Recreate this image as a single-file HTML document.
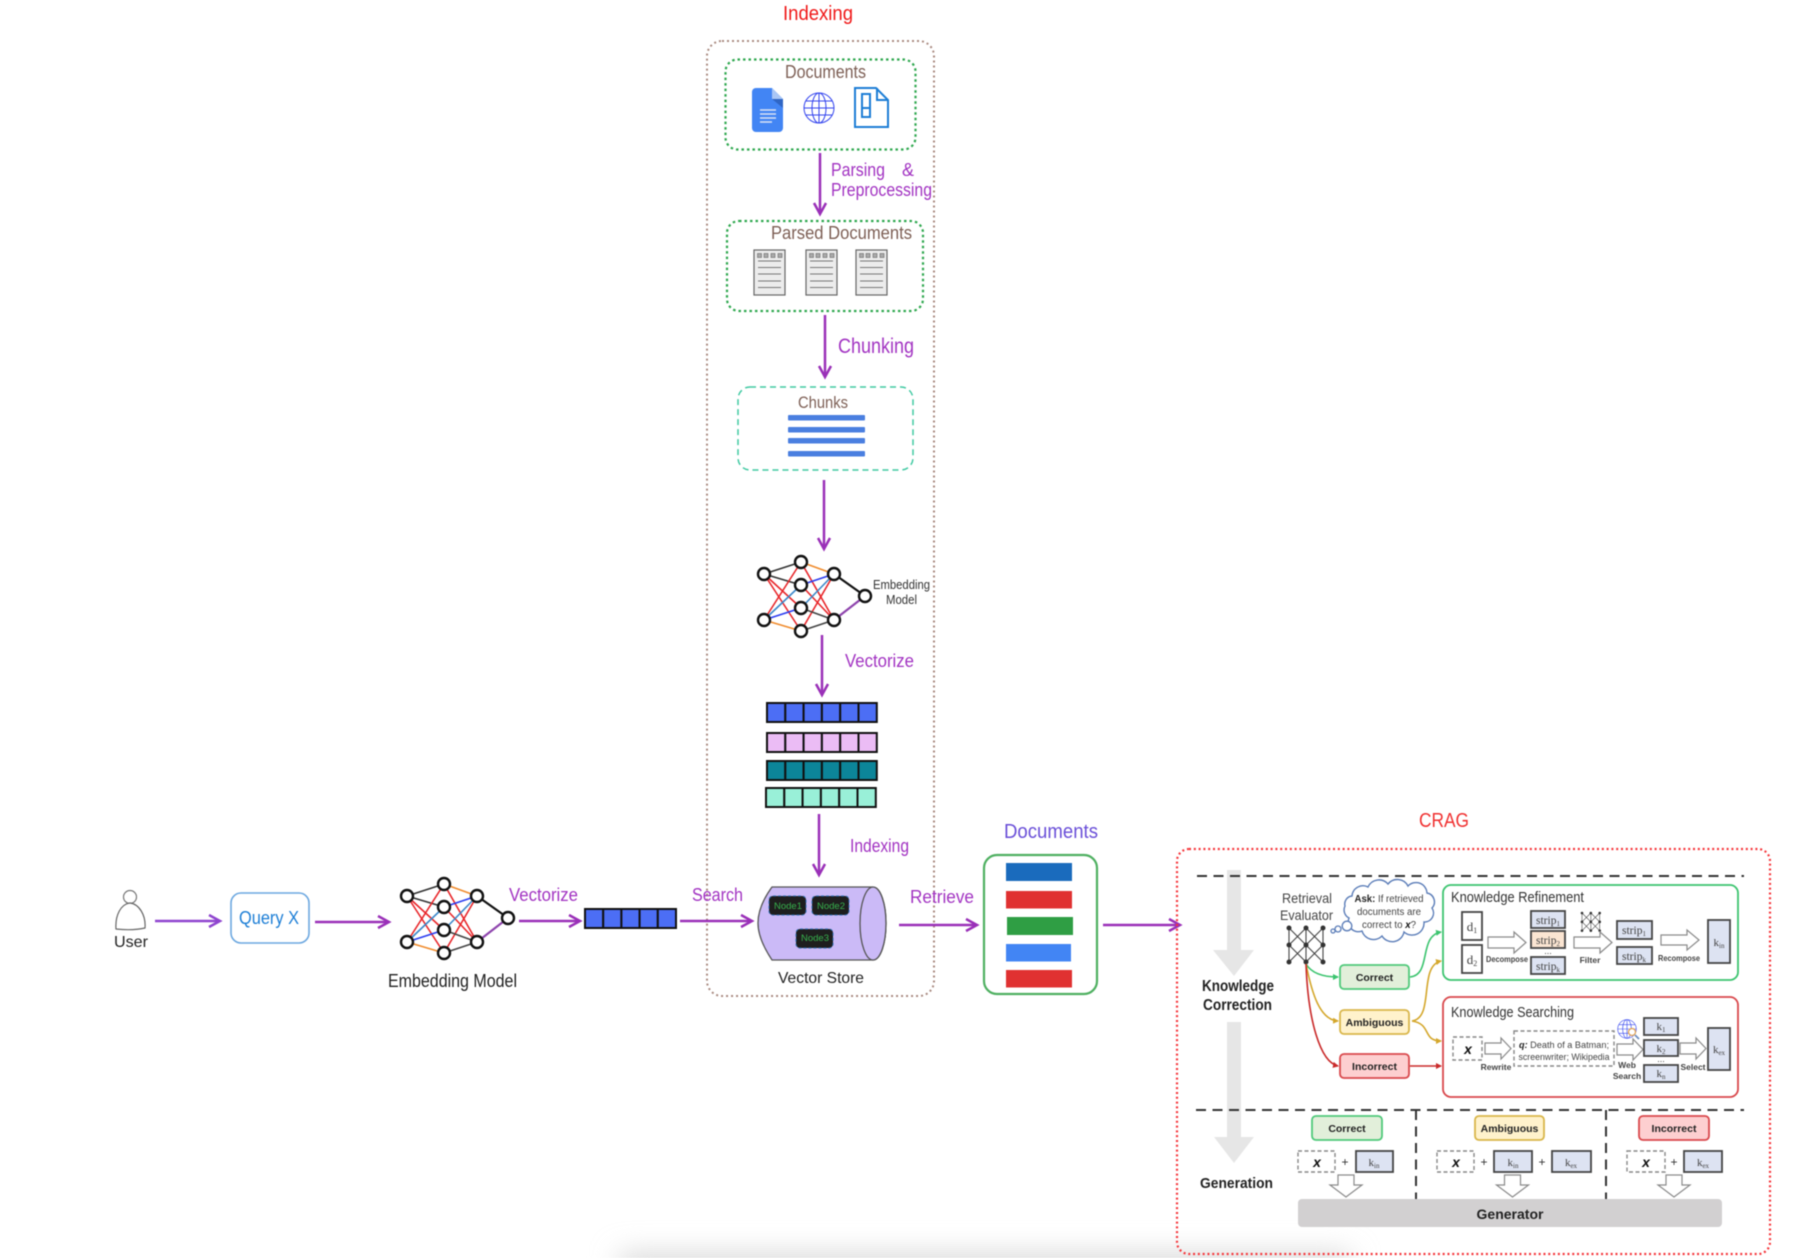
<!DOCTYPE html>
<html><head><meta charset="utf-8">
<style>
html,body{margin:0;padding:0;background:#fff;width:1794px;height:1258px;overflow:hidden}
svg{display:block;filter:blur(.45px)}
text{font-family:"Liberation Sans",sans-serif}
.p{fill:#a233c2;font-size:18px}
.br{fill:#7d5f55;font-size:18px}
.k{fill:#222;font-size:16px}
.b{font-weight:bold;fill:#222}
.t{fill:#333;font-size:14.5px}
.s{font-family:"Liberation Serif",serif;fill:#444;text-anchor:middle}
.l{font-size:8.5px;font-weight:bold;fill:#444;text-anchor:middle}
.box{fill:#dde3f2;stroke:#444;stroke-width:1.8}
.dash{fill:#fff;stroke:#888;stroke-width:1.4;stroke-dasharray:4 2.5}
.ha{fill:#fff;stroke:#8a8a8a;stroke-width:1.2}
.arr{fill:none;stroke:#9a30b8;stroke-width:2.5;marker-end:url(#m)}
.arr2{fill:none;stroke:#8f45cf;stroke-width:2.5;marker-end:url(#m2)}
.tag{font-size:10.5px;font-weight:bold;fill:#222;text-anchor:middle}
</style></head><body>
<svg width="1794" height="1258" viewBox="0 0 1794 1258" xmlns="http://www.w3.org/2000/svg">
<defs>
<filter id="sh" x="-20%" y="-300%" width="140%" height="700%"><feGaussianBlur stdDeviation="14"/></filter>
<marker id="m" markerUnits="userSpaceOnUse" markerWidth="20" markerHeight="20" refX="12" refY="7" orient="auto" overflow="visible"><path d="M1 1 L12 7 L1 13" fill="none" stroke="#9a30b8" stroke-width="2.5"/></marker>
<marker id="m2" markerUnits="userSpaceOnUse" markerWidth="20" markerHeight="20" refX="12" refY="7" orient="auto" overflow="visible"><path d="M1 1 L12 7 L1 13" fill="none" stroke="#8f45cf" stroke-width="2.5"/></marker>
<marker id="mg" markerUnits="userSpaceOnUse" markerWidth="8" markerHeight="8" refX="5" refY="3" orient="auto"><path d="M0 0L6 3L0 6Z" fill="#3cc46f"/></marker>
<marker id="my" markerUnits="userSpaceOnUse" markerWidth="8" markerHeight="8" refX="5" refY="3" orient="auto"><path d="M0 0L6 3L0 6Z" fill="#d4a72c"/></marker>
<marker id="mr" markerUnits="userSpaceOnUse" markerWidth="8" markerHeight="8" refX="5" refY="3" orient="auto"><path d="M0 0L6 3L0 6Z" fill="#c92a2a"/></marker>
<g id="nn" fill="none" stroke-width="1.6">
<path d="M0 0L37-12M0 0L37 11" stroke="#333"/>
<path d="M0 0L37 34M0 0L37 57" stroke="#e8262a"/>
<path d="M0 46L37-12" stroke="#e8262a"/>
<path d="M0 46L37 11" stroke="#3a86c8"/>
<path d="M0 46L37 34" stroke="#2a3cf0"/>
<path d="M0 46L37 57" stroke="#f08c2e"/>
<path d="M37-12L70 0" stroke="#f08c2e"/>
<path d="M37-12L70 46M37 11L70 46M37 57L70 0" stroke="#e8262a"/>
<path d="M37 11L70 0" stroke="#2a3cf0"/>
<path d="M37 34L70 0" stroke="#3a86c8"/>
<path d="M37 34L70 46M37 57L70 46" stroke="#444"/>
<path d="M70 0L101 22" stroke="#111" stroke-width="2.2"/>
<path d="M70 46L101 22" stroke="#8e44ad" stroke-width="2.2"/>
<g fill="#fff" stroke="#111" stroke-width="2.4">
<circle cx="0" cy="0" r="6"/><circle cx="0" cy="46" r="6"/>
<circle cx="37" cy="-12" r="6"/><circle cx="37" cy="11" r="6"/><circle cx="37" cy="34" r="6"/><circle cx="37" cy="57" r="6"/>
<circle cx="70" cy="0" r="6"/><circle cx="70" cy="46" r="6"/><circle cx="101" cy="22" r="6"/>
</g></g>
<g id="net">
<path d="M0 0L17 17L34 0M0 34L17 17L34 34M0 0V34M17 0V34M34 0V34M0 17L17 0M0 17L17 34M34 17L17 0M34 17L17 34" fill="none" stroke="#444" stroke-width="1.100"/>
<g fill="#333"><circle cx="0" cy="0" r="2.5"/><circle cx="17" cy="0" r="2.5"/><circle cx="34" cy="0" r="2.5"/><circle cx="0" cy="17" r="2.5"/><circle cx="17" cy="17" r="2.5"/><circle cx="34" cy="17" r="2.5"/><circle cx="0" cy="34" r="2.5"/><circle cx="17" cy="34" r="2.5"/><circle cx="34" cy="34" r="2.5"/></g>
</g>
<g id="pdoc">
<rect x="0" y="0" width="31" height="45" fill="#ececec" stroke="#666" stroke-width="1.2"/>
<g fill="#aaa" stroke="#666" stroke-width=".6"><rect x="3.5" y="3.5" width="4" height="4"/><rect x="10" y="3.5" width="4" height="4"/><rect x="17" y="3.5" width="4" height="4"/><rect x="24" y="3.5" width="4" height="4"/></g>
<path d="M4 11H27M4 17.500H27M4 24H27M4 31H27M4 37.500H27" stroke="#777" stroke-width="1"/>
</g>
<g id="globe" fill="none" stroke="#3344ee" stroke-width="1">
<circle cx="0" cy="0" r="15"/><ellipse cx="0" cy="0" rx="7" ry="15"/><path d="M0-15V15M-15 0H15M-13-7H13M-13 7H13"/>
</g>
</defs>

<rect x="620" y="1254" width="730" height="24" fill="#d4d4d4" filter="url(#sh)"/>

<!-- Indexing -->
<text x="783" y="20" font-size="20" fill="#f01818" textLength="70" lengthAdjust="spacingAndGlyphs">Indexing</text>
<rect x="707" y="41" width="227" height="955" rx="15" fill="none" stroke="#a98a80" stroke-width="2" stroke-dasharray="2 3"/>

<rect x="725.500" y="59.500" width="190" height="90" rx="12" fill="none" stroke="#2fa84f" stroke-width="2.200" stroke-dasharray="2.500 3"/>
<text class="br" x="785" y="78" textLength="81" lengthAdjust="spacingAndGlyphs">Documents</text>
<path d="M752 92a4 4 0 0 1 4-4H772L783 99V128a4 4 0 0 1-4 4H756a4 4 0 0 1-4-4Z" fill="#4285f4"/>
<path d="M772 88L783 99H772Z" fill="#a9c6f5"/>
<path d="M772 99L783 108V99Z" fill="#2f66c5"/>
<path d="M760 110H776M760 114H776M760 118H776M760 122H772" stroke="#dbe4f3" stroke-width="1.600"/>
<use href="#globe" x="819" y="108"/>
<path d="M876 88H855V127H888V100ZM877 88V100H888" fill="none" stroke="#1c7ed6" stroke-width="2"/>
<path d="M862 94H870V117H862ZM862 108H870" fill="none" stroke="#1c7ed6" stroke-width="2"/>

<path class="arr" d="M820 153V214"/>
<text class="p" x="831" y="176" textLength="54" lengthAdjust="spacingAndGlyphs">Parsing</text>
<text class="p" x="902" y="176">&amp;</text>
<text class="p" x="831" y="196" textLength="101" lengthAdjust="spacingAndGlyphs">Preprocessing</text>

<rect x="727" y="221" width="196" height="90" rx="12" fill="none" stroke="#2fa84f" stroke-width="2.200" stroke-dasharray="2.500 3"/>
<text class="br" x="771" y="239" textLength="141" lengthAdjust="spacingAndGlyphs">Parsed Documents</text>
<use href="#pdoc" x="754" y="250"/><use href="#pdoc" x="806" y="250"/><use href="#pdoc" x="856" y="250"/>

<path class="arr" d="M825 315V377"/>
<text class="p" x="838" y="353" style="font-size:21px" textLength="76" lengthAdjust="spacingAndGlyphs">Chunking</text>

<rect x="738" y="387" width="175" height="83" rx="12" fill="none" stroke="#40c9a2" stroke-width="1.500" stroke-dasharray="6 4"/>
<text class="br" x="798" y="408" style="font-size:17px" textLength="50" lengthAdjust="spacingAndGlyphs">Chunks</text>
<g fill="#4a7fe0"><rect x="788" y="415" width="77" height="5.500" rx="1"/><rect x="788" y="427" width="77" height="5.500" rx="1"/><rect x="788" y="438" width="77" height="5.500" rx="1"/><rect x="788" y="451" width="77" height="5.500" rx="1"/></g>

<path class="arr" d="M824 480V549"/>
<use href="#nn" x="764" y="574"/>
<text x="873" y="589" font-size="13" fill="#333" textLength="57" lengthAdjust="spacingAndGlyphs">Embedding</text>
<text x="886" y="604" font-size="13" fill="#333" textLength="31" lengthAdjust="spacingAndGlyphs">Model</text>

<path class="arr" d="M822 635V695"/>
<text class="p" x="845" y="667" textLength="69" lengthAdjust="spacingAndGlyphs">Vectorize</text>

<g stroke="#111" stroke-width="2">
<g fill="#4c6ef5"><rect x="767" y="703" width="18.300" height="19"/><rect x="785.300" y="703" width="18.300" height="19"/><rect x="803.600" y="703" width="18.300" height="19"/><rect x="821.900" y="703" width="18.300" height="19"/><rect x="840.200" y="703" width="18.300" height="19"/><rect x="858.500" y="703" width="18.300" height="19"/></g>
<g fill="#ebbcf5"><rect x="767" y="733" width="18.300" height="19"/><rect x="785.300" y="733" width="18.300" height="19"/><rect x="803.600" y="733" width="18.300" height="19"/><rect x="821.900" y="733" width="18.300" height="19"/><rect x="840.200" y="733" width="18.300" height="19"/><rect x="858.500" y="733" width="18.300" height="19"/></g>
<g fill="#0c8599"><rect x="767" y="761" width="18.300" height="19"/><rect x="785.300" y="761" width="18.300" height="19"/><rect x="803.600" y="761" width="18.300" height="19"/><rect x="821.900" y="761" width="18.300" height="19"/><rect x="840.200" y="761" width="18.300" height="19"/><rect x="858.500" y="761" width="18.300" height="19"/></g>
<g fill="#99f0d8"><rect x="766" y="788" width="18.300" height="19"/><rect x="784.300" y="788" width="18.300" height="19"/><rect x="802.600" y="788" width="18.300" height="19"/><rect x="820.900" y="788" width="18.300" height="19"/><rect x="839.200" y="788" width="18.300" height="19"/><rect x="857.500" y="788" width="18.300" height="19"/></g>
</g>

<path class="arr" d="M819 814V875"/>
<text class="p" x="850" y="852" textLength="59" lengthAdjust="spacingAndGlyphs">Indexing</text>

<!-- Cylinder -->
<path d="M772 887H873C881 887 886 905 886 923C886 942 881 960 873 960H772C764 948 758 935 758 923C758 911 764 898 772 887Z" fill="#cbbaf7" stroke="#555" stroke-width="1.300"/>
<ellipse cx="873" cy="923.500" rx="13" ry="36.500" fill="#cbbaf7" stroke="#555" stroke-width="1.300"/>
<g fill="#1e1e1e" stroke="#2b6cb0" stroke-width="1" stroke-dasharray="3 2">
<rect x="769" y="896" width="37" height="19" rx="4"/><rect x="812" y="896" width="37" height="19" rx="4"/><rect x="796" y="929" width="37" height="19" rx="4"/>
</g>
<g fill="#37b24d" font-size="9.500" text-anchor="middle"><text x="788" y="909">Node1</text><text x="831" y="909">Node2</text><text x="815" y="941">Node3</text></g>
<text x="778" y="983" font-size="16" fill="#222" textLength="86" lengthAdjust="spacingAndGlyphs">Vector Store</text>

<!-- Left flow -->
<circle cx="130" cy="897" r="6.500" fill="#fff" stroke="#777" stroke-width="1.200"/>
<path d="M116 929C115 915 121 904 130 903C139 904 146 915 145 928C136 930 125 930 116 929Z" fill="#fff" stroke="#666" stroke-width="1.200"/>
<text x="114" y="947" class="k" textLength="34" lengthAdjust="spacingAndGlyphs">User</text>
<path class="arr2" d="M155 921H220"/>
<rect x="231" y="893" width="78" height="50" rx="10" fill="#fff" stroke="#6ba7e0" stroke-width="1.600"/>
<text x="239" y="924" font-size="18" fill="#1c7ed6" textLength="60" lengthAdjust="spacingAndGlyphs">Query X</text>
<path class="arr" d="M315 922H389"/>
<use href="#nn" x="407" y="896"/>
<text x="388" y="987" font-size="18" fill="#222" textLength="129" lengthAdjust="spacingAndGlyphs">Embedding Model</text>
<path class="arr" d="M519 921H580"/>
<text class="p" x="509" y="901" textLength="69" lengthAdjust="spacingAndGlyphs">Vectorize</text>
<g fill="#4c6ef5" stroke="#111" stroke-width="2"><rect x="585" y="909" width="18.200" height="19"/><rect x="603.200" y="909" width="18.200" height="19"/><rect x="621.400" y="909" width="18.200" height="19"/><rect x="639.600" y="909" width="18.200" height="19"/><rect x="657.800" y="909" width="18.200" height="19"/></g>
<path class="arr" d="M680 921H752"/>
<text class="p" x="692" y="901" textLength="51" lengthAdjust="spacingAndGlyphs">Search</text>
<path class="arr" d="M899 925H977"/>
<text class="p" x="910" y="903" textLength="64" lengthAdjust="spacingAndGlyphs">Retrieve</text>

<!-- Documents -->
<text x="1004" y="838" font-size="20" fill="#6a4fd8" textLength="94" lengthAdjust="spacingAndGlyphs">Documents</text>
<rect x="984" y="855" width="113" height="139" rx="13" fill="#fff" stroke="#4fb061" stroke-width="2.200"/>
<rect x="1006" y="863" width="66" height="18" fill="#1a6bbd"/>
<rect x="1006" y="891" width="66" height="17.500" fill="#e03131"/>
<rect x="1007" y="917" width="66" height="18" fill="#2f9e44"/>
<rect x="1006" y="944" width="65" height="17.500" fill="#4285f4"/>
<rect x="1006" y="970" width="66" height="17.500" fill="#e03131"/>
<path class="arr" d="M1103 925H1180"/>

<!-- CRAG -->
<text x="1419" y="827" font-size="20" fill="#f03030" textLength="50" lengthAdjust="spacingAndGlyphs">CRAG</text>
<rect x="1177" y="849" width="593" height="405" rx="12" fill="none" stroke="#f5353a" stroke-width="2.200" stroke-dasharray="2 2.800"/>

<path d="M1227 870H1241V950H1254L1234 976L1213 950H1227Z" fill="#e6e6e6"/>
<path d="M1227 1022H1241V1137H1254L1234 1163L1214 1137H1227Z" fill="#e6e6e6"/>
<path d="M1197 876H1744M1196 1110H1744" stroke="#333" stroke-width="2" stroke-dasharray="10 6.500" fill="none"/>
<path d="M1416 1110V1200M1606 1110V1200" stroke="#333" stroke-width="2" stroke-dasharray="10 6.500" fill="none"/>

<text class="b" x="1202" y="991" font-size="16" textLength="72" lengthAdjust="spacingAndGlyphs">Knowledge</text>
<text class="b" x="1203" y="1010" font-size="16" textLength="69" lengthAdjust="spacingAndGlyphs">Correction</text>
<text class="b" x="1200" y="1188" font-size="15" textLength="73" lengthAdjust="spacingAndGlyphs">Generation</text>

<text x="1282" y="903" font-size="14" fill="#444" textLength="50" lengthAdjust="spacingAndGlyphs">Retrieval</text>
<text x="1280" y="920" font-size="14" fill="#444" textLength="53" lengthAdjust="spacingAndGlyphs">Evaluator</text>
<use href="#net" x="1289" y="928"/>

<!-- cloud -->
<path d="M1352 896A11 11 0 0 1 1368 887A12 12 0 0 1 1388 884A12 12 0 0 1 1408 886A11 11 0 0 1 1427 893A9 9 0 0 1 1432 908A9 9 0 0 1 1424 922A12 12 0 0 1 1404 932A12 12 0 0 1 1382 936A12 12 0 0 1 1362 931A10 10 0 0 1 1349 918A9 9 0 0 1 1345 906A8 8 0 0 1 1352 896Z" fill="#fff" stroke="#5b7db8" stroke-width="1.400"/>
<g fill="#fff" stroke="#5b7db8" stroke-width="1.300"><circle cx="1347" cy="926" r="4.800"/><circle cx="1338" cy="929" r="3"/><circle cx="1333" cy="931" r="2"/></g>
<g font-size="10" fill="#444" text-anchor="middle">
<text x="1389" y="902" textLength="69" lengthAdjust="spacingAndGlyphs"><tspan font-weight="bold" fill="#222">Ask:</tspan> If retrieved</text>
<text x="1389" y="915" textLength="64" lengthAdjust="spacingAndGlyphs">documents are</text>
<text x="1389" y="928" textLength="54" lengthAdjust="spacingAndGlyphs">correct to <tspan font-weight="bold" font-style="italic" fill="#111">x</tspan>?</text>
</g>

<!-- connectors -->
<path d="M1306 964C1312 974 1325 977 1338 977" fill="none" stroke="#3cc46f" stroke-width="1.600" marker-end="url(#mg)"/>
<path d="M1306 964C1312 994 1320 1020 1338 1021" fill="none" stroke="#d4a72c" stroke-width="1.600" marker-end="url(#my)"/>
<path d="M1306 964C1308 1020 1320 1062 1338 1066" fill="none" stroke="#c92a2a" stroke-width="1.600" marker-end="url(#mr)"/>
<path d="M1410 977C1432 975 1418 936 1441 932" fill="none" stroke="#3cc46f" stroke-width="1.600" marker-end="url(#mg)"/>
<path d="M1412 1021C1435 1018 1418 966 1441 961" fill="none" stroke="#d4a72c" stroke-width="1.600" marker-end="url(#my)"/>
<path d="M1412 1021C1432 1024 1422 1041 1441 1041" fill="none" stroke="#d4a72c" stroke-width="1.600" marker-end="url(#my)"/>
<path d="M1410 1066H1441" fill="none" stroke="#c92a2a" stroke-width="1.600" marker-end="url(#mr)"/>

<g stroke-width="1.800">
<rect x="1340" y="965" width="69" height="24" rx="4" fill="#e2efda" stroke="#4fc97a"/>
<rect x="1340" y="1010" width="69" height="24" rx="4" fill="#fff2cc" stroke="#d9b64a"/>
<rect x="1340" y="1054" width="69" height="24" rx="4" fill="#fdcfd0" stroke="#d9484c"/>
<rect x="1312" y="1116" width="70" height="24" rx="4" fill="#e2efda" stroke="#4fc97a"/>
<rect x="1475" y="1116" width="69" height="24" rx="4" fill="#fff2cc" stroke="#d9b64a"/>
<rect x="1639" y="1116" width="70" height="24" rx="4" fill="#fdcfd0" stroke="#d9484c"/>
</g>
<text class="tag" x="1374.500" y="981">Correct</text>
<text class="tag" x="1374.500" y="1026">Ambiguous</text>
<text class="tag" x="1374.500" y="1070">Incorrect</text>
<text class="tag" x="1347" y="1132">Correct</text>
<text class="tag" x="1509.500" y="1132">Ambiguous</text>
<text class="tag" x="1674" y="1132">Incorrect</text>

<!-- Refinement -->
<rect x="1443" y="885" width="295" height="95" rx="8" fill="#fff" stroke="#3cc46f" stroke-width="1.800"/>
<text class="t" x="1451" y="902" textLength="133" lengthAdjust="spacingAndGlyphs">Knowledge Refinement</text>
<g fill="#fff" stroke="#444" stroke-width="1.800"><rect x="1462" y="912" width="20" height="28"/><rect x="1462" y="945" width="20" height="28"/></g>
<text class="s" x="1472" y="931" font-size="13">d<tspan font-size="8" dy="2">1</tspan></text>
<text class="s" x="1472" y="964" font-size="13">d<tspan font-size="8" dy="2">2</tspan></text>
<polygon class="ha" points="1488,937 1514,937 1514,932 1526,942.500 1514,953 1514,948 1488,948"/>
<text class="l" x="1507" y="962" textLength="42" lengthAdjust="spacingAndGlyphs">Decompose</text>
<rect class="box" x="1531" y="911" width="34" height="17"/>
<rect x="1531" y="931" width="34" height="17" fill="#fbe5d2" stroke="#444" stroke-width="1.800"/>
<rect class="box" x="1531" y="957" width="34" height="17"/>
<text class="s" x="1548" y="924" font-size="11.500">strip<tspan font-size="7" dy="2">1</tspan></text>
<text class="s" x="1548" y="944" font-size="11.500">strip<tspan font-size="7" dy="2">2</tspan></text>
<text x="1548" y="954" font-size="9" fill="#444" text-anchor="middle">...</text>
<text class="s" x="1548" y="970" font-size="11.500">strip<tspan font-size="7" dy="2">k</tspan></text>
<use href="#net" transform="translate(1582 913) scale(.52)"/>
<polygon class="ha" points="1574,937 1600,937 1600,932 1612,942.500 1600,953 1600,948 1574,948"/>
<text class="l" x="1590" y="963">Filter</text>
<rect class="box" x="1617" y="921" width="35" height="18"/><rect class="box" x="1617" y="947" width="35" height="17"/>
<text class="s" x="1634" y="934" font-size="11.500">strip<tspan font-size="7" dy="2">1</tspan></text>
<text class="s" x="1634" y="960" font-size="11.500">strip<tspan font-size="7" dy="2">k</tspan></text>
<polygon class="ha" points="1661,935 1687,935 1687,930 1699,940 1687,950 1687,945 1661,945"/>
<text class="l" x="1679" y="961" textLength="42" lengthAdjust="spacingAndGlyphs">Recompose</text>
<rect class="box" x="1708" y="920" width="22" height="43"/>
<text class="s" x="1719" y="946" font-size="11">k<tspan font-size="7" dy="2">in</tspan></text>

<!-- Searching -->
<rect x="1443" y="997" width="295" height="100" rx="8" fill="#fff" stroke="#d9484c" stroke-width="1.800"/>
<text class="t" x="1451" y="1017" textLength="123" lengthAdjust="spacingAndGlyphs">Knowledge Searching</text>
<rect class="dash" x="1453" y="1037" width="29" height="23"/>
<text x="1468" y="1054" font-size="14" font-weight="bold" font-style="italic" fill="#111" text-anchor="middle">x</text>
<polygon class="ha" points="1485,1043 1501,1043 1501,1038 1511,1048.500 1501,1059 1501,1054 1485,1054"/>
<text class="l" x="1496" y="1070">Rewrite</text>
<rect class="dash" x="1514" y="1031" width="100" height="35"/>
<text x="1564" y="1048" font-size="9" fill="#444" text-anchor="middle" textLength="90" lengthAdjust="spacingAndGlyphs"><tspan font-weight="bold" font-style="italic" fill="#222">q:</tspan> Death of a Batman;</text>
<text x="1564" y="1060" font-size="9" fill="#444" text-anchor="middle" textLength="91" lengthAdjust="spacingAndGlyphs">screenwriter; Wikipedia</text>
<g transform="translate(1627 1029) scale(.62)"><use href="#globe"/></g>
<circle cx="1632" cy="1032" r="3.500" fill="#fff" stroke="#e0a050" stroke-width="1.200"/>
<path d="M1635 1035L1639 1039" stroke="#6f8fc0" stroke-width="1.800"/>
<polygon class="ha" points="1617,1044 1633,1044 1633,1039 1643,1049.500 1633,1060 1633,1055 1617,1055"/>
<text class="l" x="1627" y="1068">Web</text><text class="l" x="1627" y="1079">Search</text>
<rect class="box" x="1644" y="1018" width="34" height="17"/><rect class="box" x="1644" y="1040" width="34" height="16"/><rect class="box" x="1644" y="1065" width="34" height="17"/>
<text class="s" x="1661" y="1030" font-size="11">k<tspan font-size="7" dy="2">1</tspan></text>
<text class="s" x="1661" y="1052" font-size="11">k<tspan font-size="7" dy="2">2</tspan></text>
<text x="1661" y="1062" font-size="9" fill="#444" text-anchor="middle">...</text>
<text class="s" x="1661" y="1077" font-size="11">k<tspan font-size="7" dy="2">n</tspan></text>
<polygon class="ha" points="1680,1043 1696,1043 1696,1038 1706,1048.500 1696,1059 1696,1054 1680,1054"/>
<text class="l" x="1693" y="1070">Select</text>
<rect class="box" x="1708" y="1028" width="22" height="42"/>
<text class="s" x="1719" y="1053" font-size="11">k<tspan font-size="7" dy="2">ex</tspan></text>

<!-- Generation row -->
<rect class="dash" x="1298" y="1151" width="37" height="21"/>
<text x="1317" y="1167" font-size="14" font-weight="bold" font-style="italic" fill="#111" text-anchor="middle">x</text>
<text x="1345" y="1166" font-size="12" fill="#333" text-anchor="middle">+</text>
<rect class="box" x="1356" y="1151" width="37" height="21"/>
<text class="s" x="1374" y="1166" font-size="11">k<tspan font-size="7" dy="2">in</tspan></text>

<rect class="dash" x="1437" y="1151" width="37" height="21"/>
<text x="1456" y="1167" font-size="14" font-weight="bold" font-style="italic" fill="#111" text-anchor="middle">x</text>
<text x="1484" y="1166" font-size="12" fill="#333" text-anchor="middle">+</text>
<rect class="box" x="1494" y="1151" width="38" height="21"/>
<text class="s" x="1513" y="1166" font-size="11">k<tspan font-size="7" dy="2">in</tspan></text>
<text x="1542" y="1166" font-size="12" fill="#333" text-anchor="middle">+</text>
<rect class="box" x="1552" y="1151" width="39" height="21"/>
<text class="s" x="1571" y="1166" font-size="11">k<tspan font-size="7" dy="2">ex</tspan></text>

<rect class="dash" x="1627" y="1151" width="38" height="21"/>
<text x="1646" y="1167" font-size="14" font-weight="bold" font-style="italic" fill="#111" text-anchor="middle">x</text>
<text x="1674" y="1166" font-size="12" fill="#333" text-anchor="middle">+</text>
<rect class="box" x="1684" y="1151" width="38" height="21"/>
<text class="s" x="1703" y="1166" font-size="11">k<tspan font-size="7" dy="2">ex</tspan></text>

<polygon class="ha" points="1338,1175 1354,1175 1354,1185 1362,1185 1346,1197 1330,1185 1338,1185"/>
<polygon class="ha" points="1504.500,1175 1520.500,1175 1520.500,1185 1528.500,1185 1512.500,1197 1496.500,1185 1504.500,1185"/>
<polygon class="ha" points="1666,1175 1682,1175 1682,1185 1690,1185 1674,1197 1658,1185 1666,1185"/>

<rect x="1298" y="1199" width="424" height="28" rx="4" fill="#d2d0d1"/>
<text x="1510" y="1219" font-size="14" font-weight="bold" fill="#222" text-anchor="middle">Generator</text>
</svg>
</body></html>
